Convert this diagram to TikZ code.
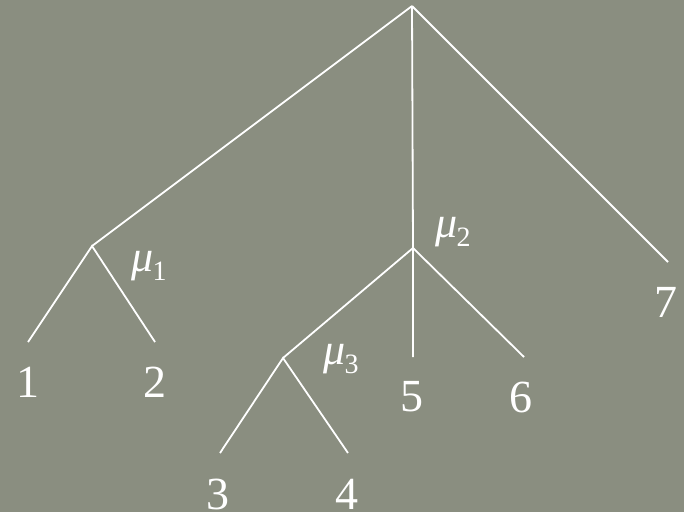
\documentclass[tikz,border=0pt]{standalone}
\usepackage{fontspec}
\setmainfont{Liberation Serif}
\usetikzlibrary{positioning}
\definecolor{slate}{RGB}{138,142,128}

\begin{document}
\begin{tikzpicture}[x=1pt, y=-1pt,
  every node/.style={text=white, inner sep=0pt, font=\fontsize{46}{50}\selectfont},
  e/.style={white, line width=1.8pt},
  mu/.style={font=\fontsize{44}{48}\selectfont}
]

% --- background ---
\fill[slate] (0,0) rectangle (684,512);
\useasboundingbox (0,0) rectangle (684,512);

% --- branch points ---
\coordinate (r) at (412,6);
\coordinate (m1) at (92,246);
\coordinate (m2) at (413,248);
\coordinate (m3) at (283,358);

% --- free ends of the leaves ---
\coordinate (e1) at (28,342);
\coordinate (e2) at (155,342);
\coordinate (e3) at (220,453);
\coordinate (e4) at (348,453);
\coordinate (e5) at (413,357);
\coordinate (e6) at (524,357);
\coordinate (e7) at (668,262);

% leaf labels
\node (1) at (28,382) {1};
\node (2) at (155,382) {2};
\node (3) at (218,494) {3};
\node (4) at (347,494) {4};
\node (5) at (412,397) {5};
\node (6) at (521,397) {6};
\node (7) at (666,302) {7};

% internal labels
\node[mu] (mu1) at (149,266) {\textit{μ}\kern-1pt\raisebox{-9pt}{\fontsize{28}{30}\selectfont 1}};
\node[mu] (mu2) at (453,232) {\textit{μ}\kern-1pt\raisebox{-9pt}{\fontsize{28}{30}\selectfont 2}};
\node[mu] (mu3) at (341,359) {\textit{μ}\kern-1pt\raisebox{-9pt}{\fontsize{28}{30}\selectfont 3}};

% --- edges ---
\draw[e] (r)--(m1);
\draw[e] (r)--(m2)--(e5);
\draw[e] (r)--(e7);
\draw[e] (e1)--(m1)--(e2);
\draw[e] (m3)--(m2)--(e6);
\draw[e] (e3)--(m3)--(e4);

\end{tikzpicture}
\end{document}
